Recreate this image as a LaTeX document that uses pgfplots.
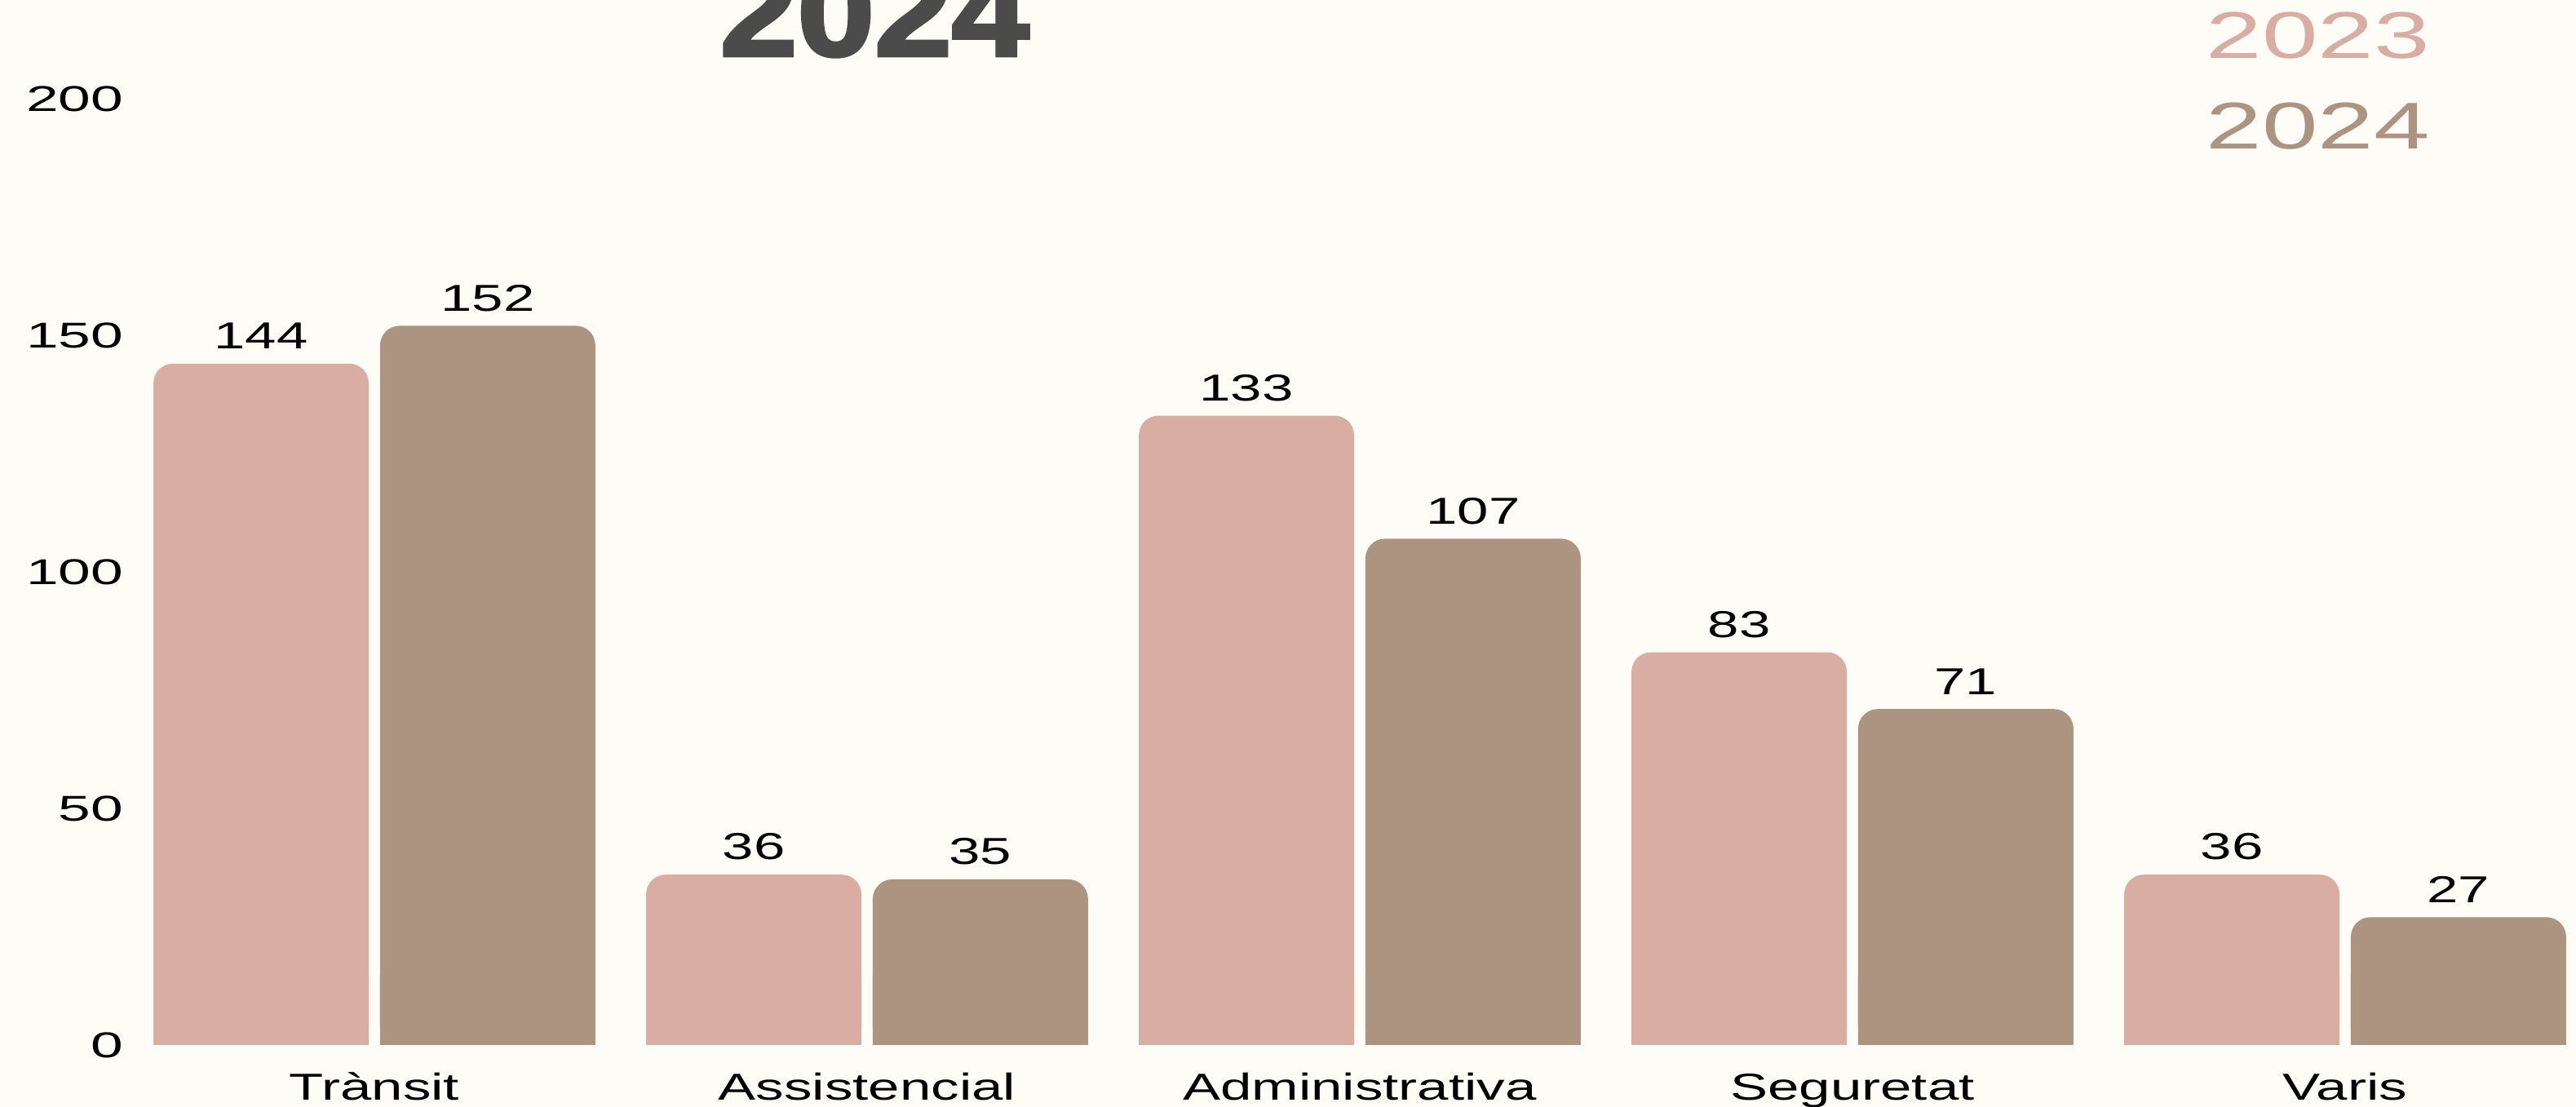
\documentclass[border=0pt]{standalone}
\usepackage{pgfplots}
\pgfplotsset{compat=1.18}
\usepackage{pgfplotstable}
\usepackage{fontspec}
\setmainfont[FakeStretch=1.5]{Liberation Sans}
\newfontfamily\numfont[FakeStretch=1.5]{Liberation Sans}
\newfontfamily\tickfont[FakeStretch=1.62]{Liberation Sans}
\newfontfamily\legfont[FakeStretch=1.52]{Liberation Sans}
\newfontfamily\titlefont[FakeStretch=1.12,FakeBold=3]{Liberation Sans Bold}
\definecolor{bg}{HTML}{FDFCF7}
\definecolor{c23}{HTML}{D9ADA2}
\definecolor{c24}{HTML}{AD9480}
\definecolor{ttl}{HTML}{4B4B4B}

\pgfplotstableread{
x y23 y24
0 144 152
1 36 35
2 133 107
3 83 71
4 36 27
}\data

\begin{document}
\begin{tikzpicture}
\fill[bg] (0,0) rectangle (789.5pt,339.25pt);
\begin{axis}[
  at={(39.25pt,19pt)}, anchor=south west,
  scale only axis, width=755pt, height=290pt,
  xmin=-0.5, xmax=4.5, ymin=0, ymax=200,
  ybar, bar width=0.437,
  axis line style={draw=none}, tick style={draw=none},
  xtick={0,1,2,3,4},
  xticklabels={Tr\`ansit, Assistencial, Administrativa, Seguretat, Varis},
  ytick={0,50,100,150,200},
  clip=false,
  /pgf/number format/assume math mode=true,
  xticklabel style={font=\fontsize{11.5}{13}\selectfont, anchor=base, inner sep=0pt, yshift=-12.5pt},
  yticklabel style={font=\tickfont\fontsize{11}{13}\selectfont, anchor=east, inner sep=0pt, xshift=-1.25pt},
  nodes near coords style={font=\numfont\fontsize{11.5}{13}\selectfont, anchor=south, inner sep=0pt, yshift=4.25pt, text=black},
]
\addplot[fill=c23, draw=none, rounded corners=6pt, bar shift=-0.23, nodes near coords] table[x=x,y=y23]{\data};
\addplot[fill=c24, draw=none, rounded corners=6pt, bar shift=0.23, nodes near coords] table[x=x,y=y24]{\data};
\addplot[fill=c23, draw=none, bar shift=-0.23, forget plot, y filter/.expression={min(y,15)}] table[x=x,y=y23]{\data};
\addplot[fill=c24, draw=none, bar shift=0.23, forget plot, y filter/.expression={min(y,15)}] table[x=x,y=y24]{\data};
\end{axis}
\node[anchor=base west, inner sep=0pt, text=ttl] at (220.5pt,322.25pt) {\titlefont\fontsize{38}{40}\selectfont 2024};
\node[anchor=base west, inner sep=0pt, text=c23] at (676pt,321.25pt) {\legfont\fontsize{20.25}{22}\selectfont 2023};
\node[anchor=base west, inner sep=0pt, text=c24] at (676pt,293.5pt) {\legfont\fontsize{20.25}{22}\selectfont 2024};
\pgfresetboundingbox
\useasboundingbox (0,0) rectangle (789.5pt,339.25pt);
\end{tikzpicture}
\end{document}
